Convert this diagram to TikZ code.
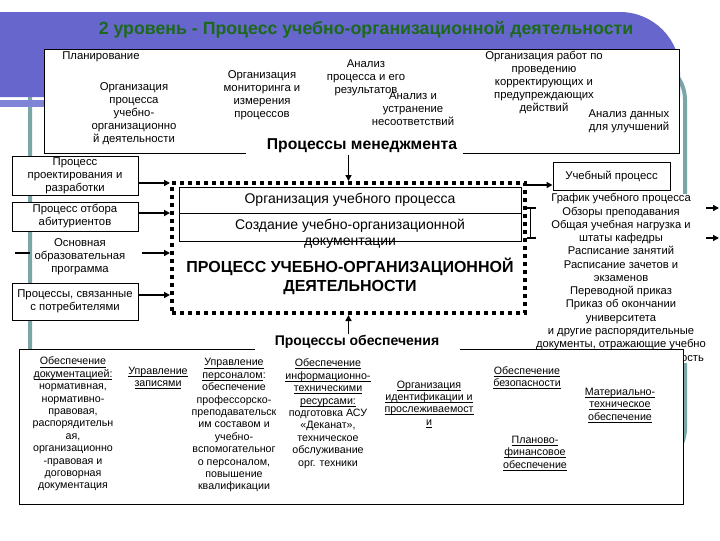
\documentclass[tikz,border=0pt]{standalone}
\usepackage{fontspec}
\setmainfont{Liberation Sans}
\usepackage{tikz}
\usetikzlibrary{arrows.meta,positioning,calc}

\definecolor{bannerblue}{RGB}{102,102,204}
\definecolor{stripblue}{RGB}{128,132,214}
\definecolor{frameteal}{RGB}{122,166,166}
\definecolor{titlegreen}{RGB}{28,104,28}

\newcommand{\uln}[1]{\underline{\smash{#1}}}

\begin{document}
\begin{tikzpicture}[
    x=0.75pt, y=-0.75pt,
    txttop/.style={
        font=\fontsize{8.5}{9.75}\selectfont,
        align=center,
        inner sep=0pt
    },
    txtsupp/.style={
        font=\fontsize{8}{9.3}\selectfont,
        align=center,
        inner sep=0pt
    },
    box/.style={
        rectangle,
        draw=black,
        line width=0.75pt,
        fill=white,
        inner sep=1pt,
        minimum width=94.5pt,
        align=center,
        font=\fontsize{8.5}{9.75}\selectfont
    },
    cell/.style={
        rectangle,
        draw=black,
        line width=0.6pt,
        minimum width=256.5pt,
        inner sep=0pt,
        font=\fontsize{10.5}{12}\selectfont
    },
    caption/.style={
        font=\bfseries\fontsize{10.5}{12}\selectfont,
        inner sep=1pt
    },
    arrow/.style={
        -{Triangle[length=4.5pt,width=4.5pt]},
        line width=1.4pt
    },
    dotframe/.style={
        draw=black,
        line width=3pt,
        dash pattern=on 3pt off 3pt,
        minimum width=264.75pt,
        minimum height=97.5pt
    }
]
\useasboundingbox (0,0) rectangle (720,540);

% Slide background
\draw[frameteal, line width=3pt, rounded corners=30pt] (30,60) rectangle (685,468);
\fill[bannerblue] (0,12) -- (620,12) arc[start angle=270, end angle=360, radius=60] -- (680,97) -- (0,97) -- cycle;
\fill[stripblue] (0,100) rectangle (680,107);
\node[font=\bfseries\fontsize{13.3}{15}\selectfont, text=titlegreen] (title) at (366,30)
    {2 уровень - Процесс учебно-организационной деятельности};

% Management processes
\fill[white] (44,49) rectangle (679,153);
\draw[line width=0.75pt] (246,153) -- (44,153) -- (44,49) -- (679,49) -- (679,153) -- (463,153);
\node[txttop, anchor=west] (plan) at (62,57) {Планирование};
\node[txttop] (orgproc) at (134,114) {Организация\\процесса\\учебно-\\организационно\\й деятельности};
\node[txttop] (monitor) at (262,95.5) {Организация\\мониторинга и\\измерения\\процессов};
\node[txttop] (analysis) at (366,78) {Анализ\\процесса и его\\результатов};
\node[txttop] (nonconf) at (413,108.5) {Анализ и\\устранение\\несоответствий};
\node[txttop] (correct) at (544,82.5) {Организация работ по\\проведению\\корректирующих и\\предупреждающих\\действий};
\node[txttop] (improve) at (629,121.5) {Анализ данных\\для улучшений};
\node[caption, font=\bfseries\fontsize{11.8}{13}\selectfont, fill=white] (mgmt) at (362,146) {Процессы менеджмента};

% Main process
\node[dotframe] (proc) at (348.5,248) {};
\node[cell, minimum height=19.5pt] (org1) at (350,200) {Организация учебного процесса};
\node[cell, minimum height=21pt] (org2) at (350,227) {};
\node[font=\fontsize{10.5}{12}\selectfont, align=center, inner sep=0pt] (org2txt) at (350,234)
    {Создание учебно-организационной\\документации};
\node[font=\bfseries\fontsize{12}{14.2}\selectfont, align=center, inner sep=0pt] (ptitle) at (350,276.5)
    {ПРОЦЕСС УЧЕБНО-ОРГАНИЗАЦИОННОЙ\\ДЕЯТЕЛЬНОСТИ};
\draw[arrow] (proc.north |- mgmt.south) -- (proc.north);

% Inputs on the left
\node[box, minimum height=28.5pt] (design) at (75,176) {Процесс\\проектирования и\\разработки};
\node[box, minimum height=21.75pt] (select) at (75,216.5) {Процесс отбора\\абитуриентов};
\node[txttop] (program) at (80,257) {Основная\\образовательная\\программа};
\node[box, minimum height=27.75pt] (consumer) at (75,301.5) {Процессы, связанные\\с потребителями};
\coordinate (progout) at (142,253);
\draw[line width=1.2pt] (15,253) -- (30,253);
\draw[arrow] ([yshift=-5.25pt]design.east) -- ([yshift=-5.25pt]design.east -| proc.west);
\draw[arrow] ([yshift=2.6pt]select.east) -- ([yshift=2.6pt]select.east -| proc.west);
\draw[arrow] (progout) -- (progout -| proc.west);
\draw[arrow] ([yshift=4.9pt]consumer.east) -- ([yshift=4.9pt]consumer.east -| proc.west);

% Outputs on the right
\node[box, minimum width=87.75pt, minimum height=21pt] (study) at (611.5,176) {Учебный процесс};
\draw[arrow] ([yshift=-6.75pt]study.west -| proc.east) -- ([yshift=-6.75pt]study.west);
\coordinate (out1) at (719,208);
\coordinate (out2) at (719,238);
\draw[arrow] (proc.east |- out1) -- (out1);
\draw[arrow] (proc.east |- out2) -- (out2);
\draw[line width=1.2pt] ([xshift=2.5pt]proc.east |- out1) -- ([xshift=2.5pt]proc.east |- out2);
\node[font=\fontsize{8.4}{9.95}\selectfont, align=center, inner sep=0pt, fill=white] (docs) at (621,278.5)
    {График учебного процесса\\Обзоры преподавания\\Общая учебная нагрузка и\\штаты кафедры\\Расписание занятий\\Расписание зачетов и\\экзаменов\\Переводной приказ\\Приказ об окончании\\университета\\и другие распорядительные\\документы, отражающие учебно\\организационную деятельность};

% Support processes
\fill[white] (19,349) rectangle (683,504);
\draw[line width=0.75pt] (255,349) -- (19,349) -- (19,504) -- (683,504) -- (683,349) -- (460,349);
\node[caption] (supp) at (357,342) {Процессы обеспечения};
\draw[arrow] (proc.south |- supp.north) -- (proc.south);

\node[txtsupp] (docsupp) at (73,428) {\uln{Обеспечение}\\\uln{документацией:}\\нормативная,\\нормативно-\\правовая,\\распорядительн\\ая,\\организационно\\-правовая  и\\договорная\\документация};
\node[txtsupp] (records) at (158,382) {\uln{Управление}\\\uln{записями}};
\node[txtsupp] (staff) at (234,429) {\uln{Управление}\\\uln{персоналом}:\\обеспечение\\профессорско-\\преподавательск\\им составом и\\учебно-\\вспомогательног\\о персоналом,\\повышение\\квалификации};
\node[txtsupp] (infotech) at (328,417.5) {\uln{Обеспечение}\\\uln{информационно-}\\\uln{техническими}\\\uln{ресурсами:}\\подготовка АСУ\\«Деканат»,\\техническое\\обслуживание\\орг. техники};
\node[txtsupp] (trace) at (429,408) {\uln{Организация}\\\uln{идентификации и}\\\uln{прослеживаемост}\\\uln{и}};
\node[txtsupp] (safety) at (527,382) {\uln{Обеспечение}\\\uln{безопасности}};
\node[txtsupp] (material) at (620,409) {\uln{Материально-}\\\uln{техническое}\\\uln{обеспечение}};
\node[txtsupp] (finance) at (535,457) {\uln{Планово-}\\\uln{финансовое}\\\uln{обеспечение}};

\end{tikzpicture}
\end{document}
